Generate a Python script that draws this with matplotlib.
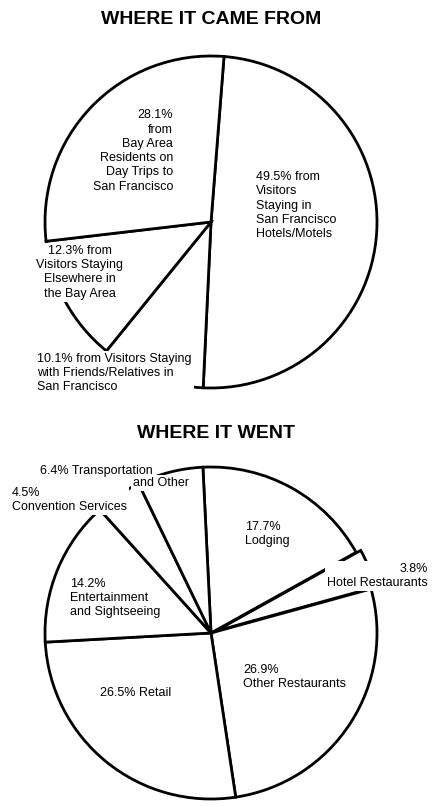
import matplotlib
matplotlib.use('Agg')
import matplotlib.pyplot as plt

# where the money came from (percent)
came_labels = ['Hotels/Motels', 'Friends/Relatives', 'Elsewhere Bay Area', 'Day Trips']
came_values = [49.5, 10.1, 12.3, 28.1]

# where the money went (percent)
went_labels = ['Lodging', 'Hotel Restaurants', 'Other Restaurants', 'Retail',
               'Entertainment', 'Convention Services', 'Transportation']
went_values = [17.7, 3.8, 26.9, 26.5, 14.2, 4.5, 6.4]
went_explode = [0, 5, 0, 0, 0, 0, 0]

W, H = 433, 806
plt.rcParams['font.family'] = ['Liberation Sans Narrow', 'Liberation Sans', 'DejaVu Sans']

fig = plt.figure(figsize=(W / 100, H / 100), dpi=100)
ax = fig.add_axes([0, 0, 1, 1])

wp = dict(facecolor='white', edgecolor='black', linewidth=2)

ax.pie(came_values, startangle=85.5, counterclock=False,
       center=(211, H - 222), radius=166, wedgeprops=wp)
ax.pie(went_values, startangle=92.8, counterclock=False, explode=went_explode,
       center=(211, H - 633), radius=166, wedgeprops=wp)

ax.set_xlim(0, W)
ax.set_ylim(0, H)
ax.set_aspect('auto')
ax.axis('off')

tk = dict(fontsize=9, color='black', linespacing=1.25, zorder=5)
# outer labels get a white box so the slice lines break around them, like the print
tkb = dict(tk, bbox=dict(facecolor='white', edgecolor='none', pad=1.5))

# titles
ax.text(211, H - 20, 'WHERE IT CAME FROM', ha='center', va='center',
        fontsize=14, fontweight='bold')
ax.text(216, H - 433, 'WHERE IT WENT', ha='center', va='center',
        fontsize=14, fontweight='bold')

# top pie labels
ax.text(173, H - 151, '28.1%\nfrom\nBay Area\nResidents on\nDay Trips to\nSan Francisco',
        ha='right', va='center', multialignment='right', **tk)
ax.text(256, H - 171, '49.5% from\nVisitors\nStaying in\nSan Francisco\nHotels/Motels',
        ha='left', va='top', **tk)
ax.text(80, H - 245, '12.3% from\nVisitors Staying\nElsewhere in\nthe Bay Area',
        ha='center', va='top', multialignment='center', **tkb)
ax.text(37, H - 353, '10.1% from Visitors Staying\nwith Friends/Relatives in\nSan Francisco',
        ha='left', va='top', **tkb)

# bottom pie labels
ax.text(245, H - 521, '17.7%\nLodging', ha='left', va='top', **tk)
ax.text(428, H - 563, '3.8%\nHotel Restaurants', ha='right', va='top',
        multialignment='right', **tkb)
ax.text(243, H - 664, '26.9%\nOther Restaurants', ha='left', va='top', **tk)
ax.text(100, H - 693, '26.5% Retail', ha='left', va='center', **tk)
ax.text(70, H - 578, '14.2%\nEntertainment\nand Sightseeing', ha='left', va='top', **tk)
ax.text(12, H - 487, '4.5%\nConvention Services', ha='left', va='top', **tkb)
ax.text(40, H - 471, '6.4% Transportation', ha='left', va='center', **tkb)
ax.text(133, H - 483, 'and Other', ha='left', va='center', **tkb)
ax.plot([110, 127], [H - 502, H - 490], color='black', linewidth=2)

fig.savefig('out.png', dpi=100, facecolor='white')
